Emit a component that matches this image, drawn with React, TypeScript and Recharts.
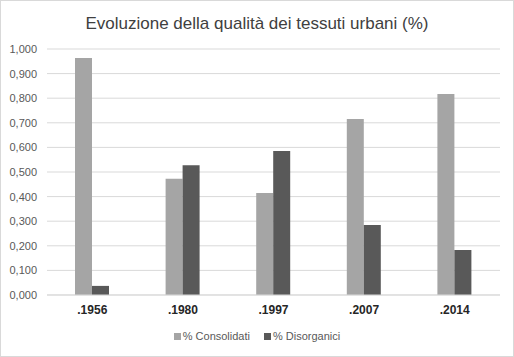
import React from "react";
import { BarChart, Bar, XAxis, YAxis, CartesianGrid } from "recharts";

const categories = [".1956", ".1980", ".1997", ".2007", ".2014"];
const consolidati = [0.963, 0.473, 0.415, 0.715, 0.817];
const disorganici = [0.037, 0.527, 0.585, 0.285, 0.183];
const yTicks = [0, 0.1, 0.2, 0.3, 0.4, 0.5, 0.6, 0.7, 0.8, 0.9, 1.0];
const seriesNames = ["% Consolidati", "% Disorganici"];
const seriesColors = ["#A5A5A5", "#595959"];
const title = "Evoluzione della qualità dei tessuti urbani (%)";

const data = categories.map((c, i) => ({
  name: c,
  consolidati: consolidati[i],
  disorganici: disorganici[i],
}));

const font = "'Liberation Sans', Arial, sans-serif";

export default function App() {
  return (
    <div style={{ position: "absolute", left: 0, top: 0, width: 514, height: 357, background: "#fff", fontFamily: font }}>
      <BarChart
        width={514}
        height={357}
        data={data}
        margin={{ top: 49, right: 14, bottom: 32, left: 0 }}
        barGap={0}
        barSize={17}
      >
        <CartesianGrid vertical={false} stroke="#D9D9D9" strokeWidth={1} />
        <XAxis
          dataKey="name"
          height={30}
          axisLine={{ stroke: "#D9D9D9" }}
          tickLine={false}
          tickSize={0}
          tickMargin={10}
          tick={{ fill: "#262626", fontSize: 12, fontWeight: "bold", fontFamily: font }}
        />
        <YAxis
          width={47}
          domain={[0, 1]}
          ticks={yTicks}
          interval={0}
          axisLine={false}
          tickLine={false}
          tickSize={0}
          tickMargin={10}
          tickFormatter={(v: number) => v.toFixed(3).replace(".", ",")}
          tick={{ fill: "#595959", fontSize: 11, fontFamily: font }}
        />
        <Bar dataKey="consolidati" name={seriesNames[0]} fill={seriesColors[0]} isAnimationActive={false} />
        <Bar dataKey="disorganici" name={seriesNames[1]} fill={seriesColors[1]} isAnimationActive={false} />
      </BarChart>
      <div
        style={{
          position: "absolute",
          left: 0,
          top: 13,
          width: 514,
          textAlign: "center",
          fontSize: 17,
          color: "#404040",
          lineHeight: "22px",
        }}
      >
        {title}
      </div>
      <div
        style={{
          position: "absolute",
          left: 0,
          top: 329,
          width: 514,
          display: "flex",
          justifyContent: "center",
          alignItems: "center",
          fontSize: 11,
          color: "#595959",
          lineHeight: "14px",
        }}
      >
        {seriesNames.map((n, i) => (
          <div key={n} style={{ display: "flex", alignItems: "center", marginLeft: i === 0 ? 0 : 14 }}>
            <span style={{ display: "inline-block", width: 7, height: 7, background: seriesColors[i], marginRight: 2 }} />
            <span>{n}</span>
          </div>
        ))}
      </div>
      <div
        style={{
          position: "absolute",
          left: 0,
          top: 0,
          width: 514,
          height: 357,
          boxSizing: "border-box",
          border: "1px solid #D9D9D9",
          pointerEvents: "none",
        }}
      />
    </div>
  );
}
